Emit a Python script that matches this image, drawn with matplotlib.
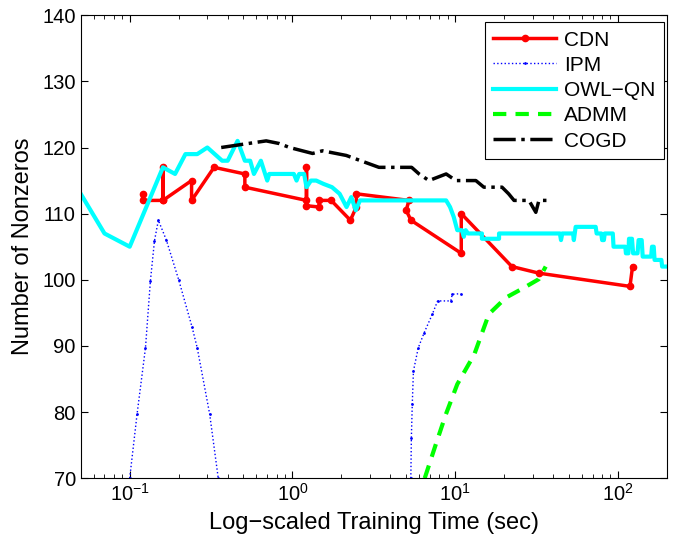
import numpy as np
import matplotlib
matplotlib.use("Agg")
import matplotlib.pyplot as plt

plt.rcParams['font.family'] = ['Liberation Sans', 'DejaVu Sans']
plt.rcParams['font.size'] = 12

# CDN (red, dot markers)
cdn_t = [0.12, 0.12, 0.16, 0.16, 0.16, 0.24, 0.24, 0.33, 0.51, 0.51, 1.22, 1.22, 1.22,
         1.46, 1.46, 1.73, 2.27, 2.47, 2.47, 5.2, 5.0, 5.35, 10.9, 10.9, 22.3, 32.7,
         118.6, 123.0]
cdn_v = [113, 112, 112, 117, 112, 115, 112, 117, 116, 114, 112, 117, 111.2,
         111, 112, 112, 109, 111, 113, 112, 110.5, 109, 104, 110, 102, 101,
         99, 102]

# IPM (blue dotted), two visible pieces
ipm_t = [0.10, 0.111, 0.125, 0.134, 0.142, 0.15, 0.168, 0.20, 0.242, 0.26, 0.31, 0.35,
         np.nan,
         5.34, 5.38, 5.45, 5.54, 5.93, 6.45, 7.24, 7.8, 9.4, 9.6, 10.8]
ipm_v = [70, 79.7, 89.7, 99.8, 105.9, 109, 106, 100, 92.8, 89.7, 79.7, 70,
         np.nan,
         70, 76.1, 81.2, 86.2, 89.7, 92, 94.8, 96.8, 96.8, 97.8, 97.9]

# OWL-QN (cyan)
owl_t = [0.05, 0.07, 0.10, 0.16, 0.19, 0.22, 0.26, 0.30, 0.37, 0.40, 0.46, 0.51, 0.55,
         0.58, 0.64, 0.70, 0.72, 1.02, 1.06, 1.10, 1.18, 1.22, 1.30, 1.40, 1.55, 1.75,
         1.95, 2.15, 2.30, 2.45, 2.60, 3.0, 8.8, 9.3, 9.8, 10.3, 11.0, 11.3, 11.6, 12.0,
         14.6, 14.6, 18.6, 18.6, 44.0, 44.7, 45.5, 53.0, 53.6, 54.3, 55.0, 73.0, 74.0,
         79.0, 80.0, 82.0, 83.0, 93.0, 94.0, 111.0, 112.0, 116.0, 117.0, 122.0, 124.0,
         132.0, 134.0, 140.0, 142.0, 160.0, 162.0, 166.0, 168.0, 185.0, 187.0, 200.0]
owl_v = [113, 107, 105, 117, 116, 119, 119, 120, 118, 118, 121, 118, 118,
         116, 118, 115, 116, 116, 115, 116, 116, 114, 115, 115, 114.5, 114,
         113, 111, 112.5, 110.5, 112, 112, 112, 111, 109.5, 107.5, 107.5, 106.5, 107.5, 107,
         107, 106.2, 106.2, 107, 107, 106, 107, 107, 106, 107, 108, 108, 107,
         107, 106, 106, 107, 107, 105, 105, 104, 104, 106.2, 106.2, 104,
         104, 106, 106, 103.5, 103.5, 105, 105, 103, 103, 102, 102]

# ADMM (green dashed)
admm_t = [6.5, 7.6, 8.75, 10.3, 13.1, 16.1, 20.5, 26.5, 32.7, 36.0]
admm_v = [70, 75.1, 79.6, 84.2, 88.7, 94.8, 97.3, 98.8, 100.1, 102]

# COGD (black dash-dot)
cogd_t = [0.365, 0.5, 0.69, 0.83, 0.96, 1.33, 1.53, 2.14, 3.4, 5.4, 6.0, 6.9, 8.8,
          10.1, 13.4, 15.0, 19.4, 21.3, 23.0, 28.4, 31.3, 32.7, 38.7]
cogd_v = [120, 120.5, 121, 120.6, 120, 119.1, 119.5, 118.8, 117, 117, 116, 115, 116,
          115, 115, 114, 114, 113, 112, 112, 110.2, 112, 112]

fig = plt.figure(figsize=(6.84, 5.44), dpi=100)
ax = fig.add_axes([0.118, 0.121, 0.857, 0.851])

ax.plot(cdn_t, cdn_v, color='red', lw=2.5, marker='.', ms=9, label='CDN')
ax.plot(ipm_t, ipm_v, color='blue', lw=1, ls=':', marker='.', ms=2, label='IPM')
ax.plot(owl_t, owl_v, color='cyan', lw=3, label='OWL\u2212QN')
ax.plot(admm_t, admm_v, color=(0, 1, 0), lw=3, ls=(0, (3.2, 2.2)), label='ADMM')
ax.plot(cogd_t, cogd_v, color='black', lw=2.5, ls='-.', label='COGD')

ax.set_xscale('log')
ax.set_xlim(0.05, 200)
ax.set_ylim(70, 140)
ax.set_yticks(range(70, 141, 10))
ax.tick_params(which='both', direction='in', top=True, right=True, labelsize=14.5)
ax.tick_params(which='major', length=5)
ax.tick_params(which='minor', length=3)
ax.set_xlabel('Log\u2212scaled Training Time (sec)', fontsize=17, labelpad=5)
ax.set_ylabel('Number of Nonzeros', fontsize=17, labelpad=6)

leg = ax.legend(loc='upper right', bbox_to_anchor=(0.995, 0.985), fontsize=15,
                handlelength=3.0, handletextpad=0.4, fancybox=False,
                edgecolor='black', framealpha=1, borderaxespad=0.0,
                labelspacing=0.3, borderpad=0.4)
leg.get_frame().set_linewidth(0.8)

fig.savefig('out.png', dpi=100)
